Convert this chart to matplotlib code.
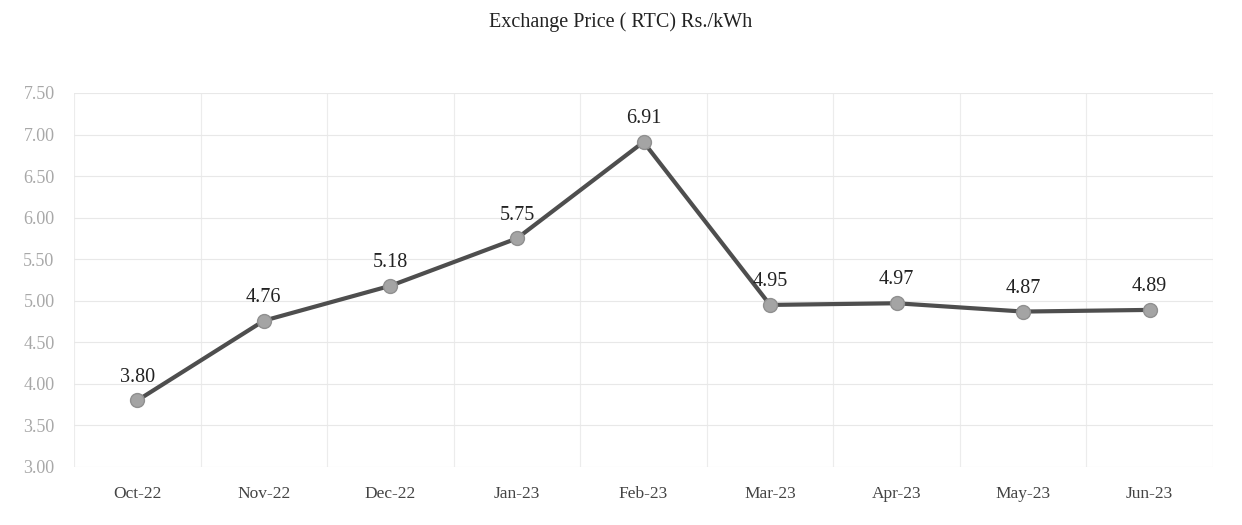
import matplotlib
matplotlib.use("Agg")
import matplotlib.pyplot as plt
import numpy as np

months = ["Oct-22", "Nov-22", "Dec-22", "Jan-23", "Feb-23", "Mar-23", "Apr-23", "May-23", "Jun-23"]
price = [3.80, 4.76, 5.18, 5.75, 6.91, 4.95, 4.97, 4.87, 4.89]
yticks = [3.00, 3.50, 4.00, 4.50, 5.00, 5.50, 6.00, 6.50, 7.00, 7.50]

plt.rcParams['font.family'] = ['Liberation Serif', 'DejaVu Serif']

fig = plt.figure(figsize=(12.42, 5.25), dpi=100)
ax = fig.add_axes([74 / 1242, 0.1105, (1213 - 74) / 1242, 0.7124])

x = np.arange(len(months))
ax.plot(x, price, color="#4e4e4e", linewidth=3, marker="o", markersize=10,
        markerfacecolor="#a4a4a4", markeredgecolor="#909090", zorder=3)

for xi, v in zip(x, price):
    ax.annotate("{:.2f}".format(v), (xi, v), xytext=(0, 10), textcoords="offset points",
                ha="center", va="bottom", fontsize=14.5, color="#222222")

ax.set_xlim(-0.5, len(months) - 0.5)
ax.set_ylim(3.0, 7.5)
ax.set_yticks(yticks)
ax.set_yticklabels(["{:.2f}".format(t) for t in yticks])
ax.set_xticks(x)
ax.set_xticklabels(months)
ax.set_xticks(np.arange(len(months) + 1) - 0.5, minor=True)
ax.tick_params(axis="y", colors="#a8a8a8", labelsize=13, length=0, pad=14)
ax.tick_params(axis="x", colors="#444444", labelsize=12.5, length=0, pad=14)
ax.tick_params(axis="x", which="minor", length=0)
ax.grid(True, axis="y", color="#e8e8e8", linewidth=0.8)
ax.grid(True, axis="x", which="minor", color="#ececec", linewidth=0.8)
for s in ax.spines.values():
    s.set_visible(False)

fig.text(0.5, 0.958, "Exchange Price ( RTC) Rs./kWh", ha="center", va="center",
         fontsize=14.5, color="#222222")

fig.savefig("out.png", dpi=100)
